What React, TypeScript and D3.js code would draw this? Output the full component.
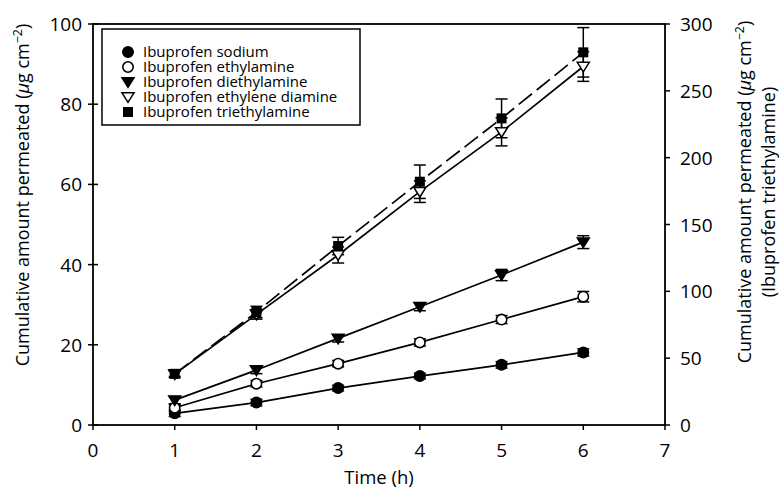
import React from "react";
import * as d3 from "d3";

// time points (h)
const times = [1, 2, 3, 4, 5, 6];

// cumulative amount permeated (µg cm-2), left axis
const sodium = [2.9, 5.6, 9.2, 12.2, 15.0, 18.1];
const sodiumErr = [0.8, 0.8, 0.7, 0.7, 0.8, 0.9];
const ethylamine = [4.3, 10.3, 15.3, 20.6, 26.3, 32.0];
const ethylamineErr = [0.8, 0.8, 0.8, 0.9, 1.0, 1.3];
const diethylamine = [6.2, 13.7, 21.6, 29.5, 37.4, 45.6];
const diethylamineErr = [0.9, 0.9, 0.9, 1.0, 1.4, 1.6];
const ethyleneDiamine = [12.7, 27.6, 42.4, 58.2, 73.1, 89.4];
const ethyleneDiamineErr = [0.9, 1.2, 2.0, 2.7, 3.5, 3.7];
// right axis
const triethylamine = [38.3, 84.5, 133.9, 182.0, 229.4, 278.8];
const triethylamineErr = [2.0, 4.3, 6.5, 12.5, 14.5, 18.5];

const xTicks = [0, 1, 2, 3, 4, 5, 6, 7];
const yLeftTicks = [0, 20, 40, 60, 80, 100];
const yRightTicks = [0, 50, 100, 150, 200, 250, 300];

const legendLabels = [
  "Ibuprofen sodium",
  "Ibuprofen ethylamine",
  "Ibuprofen diethylamine",
  "Ibuprofen ethylene diamine",
  "Ibuprofen triethylamine",
];

const W = 781;
const H = 489;
const font = "'Open Sans', 'Noto Sans', sans-serif";

const x = d3.scaleLinear().domain([0, 7]).range([93, 665]);
const yL = d3.scaleLinear().domain([0, 100]).range([425, 24]);
const yR = d3.scaleLinear().domain([0, 300]).range([425, 24]);

type Shape = "circleFill" | "circleOpen" | "triFill" | "triOpen" | "square";

const Marker = ({ shape, cx, cy }: { shape: Shape; cx: number; cy: number }) => {
  if (shape === "circleFill" || shape === "circleOpen") {
    return (
      <circle cx={cx} cy={cy} r={5.2} fill={shape === "circleFill" ? "#000" : "#fff"} stroke="#000" strokeWidth={1.6} />
    );
  }
  if (shape === "triFill" || shape === "triOpen") {
    const s = 6;
    const p = `M${cx - s},${cy - s * 0.7} L${cx + s},${cy - s * 0.7} L${cx},${cy + s * 0.9} Z`;
    return <path d={p} fill={shape === "triFill" ? "#000" : "#fff"} stroke="#000" strokeWidth={1.5} />;
  }
  return <rect x={cx - 5} y={cy - 5} width={10} height={10} fill="#000" />;
};

const seriesList = [
  { vals: sodium, err: sodiumErr, shape: "circleFill" as Shape, scale: yL, dash: "" },
  { vals: ethylamine, err: ethylamineErr, shape: "circleOpen" as Shape, scale: yL, dash: "" },
  { vals: diethylamine, err: diethylamineErr, shape: "triFill" as Shape, scale: yL, dash: "" },
  { vals: ethyleneDiamine, err: ethyleneDiamineErr, shape: "triOpen" as Shape, scale: yL, dash: "" },
  { vals: triethylamine, err: triethylamineErr, shape: "square" as Shape, scale: yR, dash: "17,6" },
];

export default function App() {
  const line = (s: d3.ScaleLinear<number, number>) =>
    d3
      .line<number>()
      .x((_, i) => x(times[i]))
      .y((d) => s(d));

  return (
    <svg width={W} height={H} style={{ position: "absolute", left: 0, top: 0 }} fontFamily={font}>
      <rect width={W} height={H} fill="#fff" />

      {/* lines */}
      {seriesList.map((s, k) => (
        <path key={"l" + k} d={line(s.scale)(s.vals) || ""} fill="none" stroke="#000" strokeWidth={1.7} strokeDasharray={s.dash} />
      ))}

      {/* error bars */}
      {seriesList.map((s, k) => (
        <g key={"e" + k} stroke="#000" strokeWidth={1.5}>
          {s.vals.map((v, i) => {
            const cx = x(times[i]);
            const y1 = s.scale(v + s.err[i]);
            const y2 = s.scale(v - s.err[i]);
            return (
              <g key={i}>
                <line x1={cx} x2={cx} y1={y1} y2={y2} />
                <line x1={cx - 6} x2={cx + 6} y1={y1} y2={y1} />
                <line x1={cx - 6} x2={cx + 6} y1={y2} y2={y2} />
              </g>
            );
          })}
        </g>
      ))}

      {/* markers */}
      {seriesList.map((s, k) => (
        <g key={"m" + k}>
          {s.vals.map((v, i) => (
            <Marker key={i} shape={s.shape} cx={x(times[i])} cy={s.scale(v)} />
          ))}
        </g>
      ))}

      {/* frame */}
      <rect x={x(0)} y={yL(100)} width={x(7) - x(0)} height={yL(0) - yL(100)} fill="none" stroke="#000" strokeWidth={1.8} />

      {/* x axis */}
      {xTicks.map((t) => (
        <g key={"x" + t}>
          <line x1={x(t)} x2={x(t)} y1={yL(0)} y2={yL(0) + 5} stroke="#000" strokeWidth={1.5} />
          <text x={x(t)} y={yL(0) + 32} textAnchor="middle" fontSize={19}>
            {t}
          </text>
        </g>
      ))}
      <text x={(x(0) + x(7)) / 2} y={484} textAnchor="middle" fontSize={18.5}>
        Time (h)
      </text>

      {/* left axis */}
      {yLeftTicks.map((t) => (
        <g key={"yl" + t}>
          <line x1={x(0) - 5} x2={x(0) + 5} y1={yL(t)} y2={yL(t)} stroke="#000" strokeWidth={1.5} />
          <text x={x(0) - 11} y={yL(t) + 7} textAnchor="end" fontSize={19}>
            {t}
          </text>
        </g>
      ))}
      <text transform={`translate(29,195) rotate(-90)`} textAnchor="middle" fontSize={18}>
        Cumulative amount permeated (<tspan fontStyle="italic">μ</tspan>g cm
        <tspan dy={-7} fontSize={12.5}>−2</tspan>
        <tspan dy={7}>)</tspan>
      </text>

      {/* right axis */}
      {yRightTicks.map((t) => (
        <g key={"yr" + t}>
          <line x1={x(7)} x2={x(7) + 5} y1={yR(t)} y2={yR(t)} stroke="#000" strokeWidth={1.5} />
          <text x={x(7) + 15} y={yR(t) + 7} textAnchor="start" fontSize={19}>
            {t}
          </text>
        </g>
      ))}
      <text transform={`translate(751,192) rotate(-90)`} textAnchor="middle" fontSize={18}>
        Cumulative amount permeated (<tspan fontStyle="italic">μ</tspan>g cm
        <tspan dy={-7} fontSize={12.5}>−2</tspan>
        <tspan dy={7}>)</tspan>
      </text>
      <text transform={`translate(775,192) rotate(-90)`} textAnchor="middle" fontSize={18}>
        (Ibuprofen triethylamine)
      </text>

      {/* legend */}
      <rect x={102} y={29} width={258} height={96} fill="#fff" stroke="#000" strokeWidth={1.5} />
      {legendLabels.map((lab, i) => (
        <g key={"lg" + i}>
          <Marker shape={seriesList[i].shape} cx={128} cy={52 + i * 15} />
          <text x={143} y={52 + i * 15 + 5} fontSize={15}>
            {lab}
          </text>
        </g>
      ))}
    </svg>
  );
}
